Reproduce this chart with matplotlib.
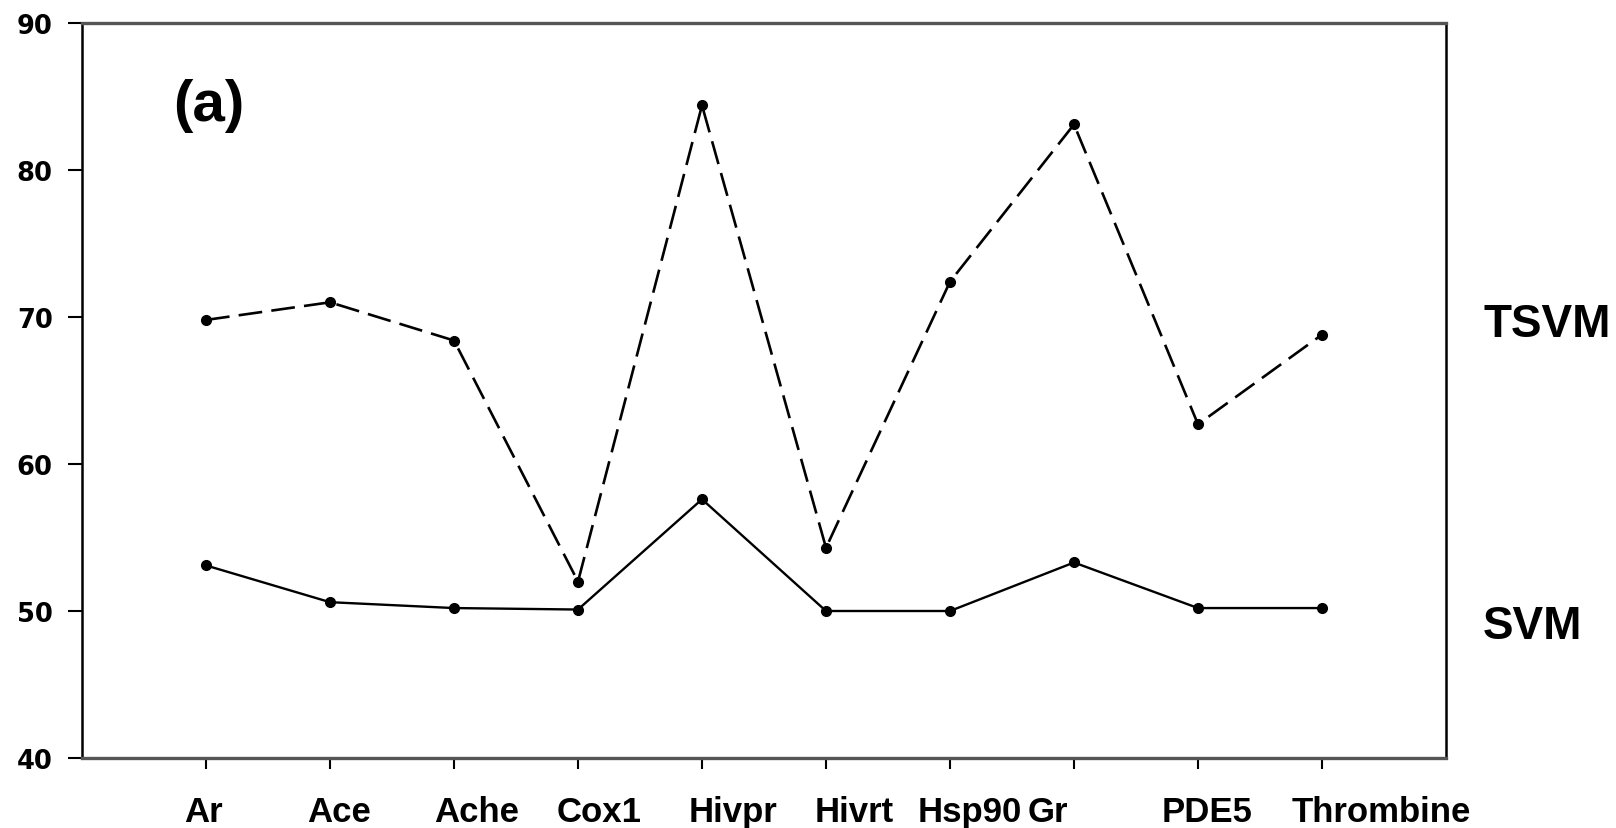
import numpy as np
import matplotlib
matplotlib.use("Agg")
import matplotlib.pyplot as plt
from matplotlib.transforms import ScaledTranslation

targets = ["Ar", "Ace", "Ache", "Cox1", "Hivpr", "Hivrt", "Hsp90", "Gr", "PDE5", "Thrombine"]
tsvm = [69.8, 71.0, 68.4, 52.0, 84.4, 54.3, 72.4, 83.1, 62.7, 68.8]
svm = [53.1, 50.6, 50.2, 50.1, 57.6, 50.0, 50.0, 53.3, 50.2, 50.2]
yticks = [40, 50, 60, 70, 80, 90]

# horizontal nudge (pixels) of each category label from its tick
label_shift = [-3, 9, 23, 21, 31, 28, 20, -26, 9, 59]

fig = plt.figure(figsize=(16.16, 8.29), dpi=100)
ax = fig.add_axes([82 / 1616, 1 - 759 / 829, (1446 - 82) / 1616, (759 - 24) / 829])

x = np.arange(1, len(targets) + 1)
ax.plot(x, tsvm, color="black", lw=1.9, dashes=(9, 3.5),
        marker="o", markersize=7, markerfacecolor="black", markeredgecolor="black")
ax.plot(x, svm, color="black", lw=1.7,
        marker="o", markersize=7, markerfacecolor="black", markeredgecolor="black")

ax.set_xlim(0, 11)
ax.set_ylim(40, 90)
ax.set_xticks(x)
ax.set_xticklabels(targets, family="Liberation Sans", weight="bold", size=25)
ax.set_yticks(yticks)
ax.set_yticklabels([str(v) for v in yticks], family="DejaVu Sans", weight="bold", size=18.5)

ax.tick_params(axis="x", direction="out", length=8, width=1.5, pad=19, colors="black")
ax.tick_params(axis="y", direction="out", length=10, width=1.5, pad=11, colors="black")

for lab, dx in zip(ax.get_xticklabels(), label_shift):
    lab.set_transform(lab.get_transform() + ScaledTranslation(dx / 100, 0, fig.dpi_scale_trans))

for side in ["left", "right"]:
    ax.spines[side].set_linewidth(1.8)
    ax.spines[side].set_color("black")
for side in ["top", "bottom"]:
    ax.spines[side].set_linewidth(2.4)
    ax.spines[side].set_color("#555555")

# panel tag and series names
ax.text(1.02, 84.4, "(a)", family="Liberation Sans", weight="bold", size=42,
        ha="center", va="center")
ax.text(11.3, 69.5, "TSVM", family="Liberation Sans", weight="bold", size=33,
        ha="left", va="center", clip_on=False)
ax.text(11.3, 49.0, "SVM", family="Liberation Sans", weight="bold", size=33,
        ha="left", va="center", clip_on=False)

fig.savefig("out.png", dpi=100)
